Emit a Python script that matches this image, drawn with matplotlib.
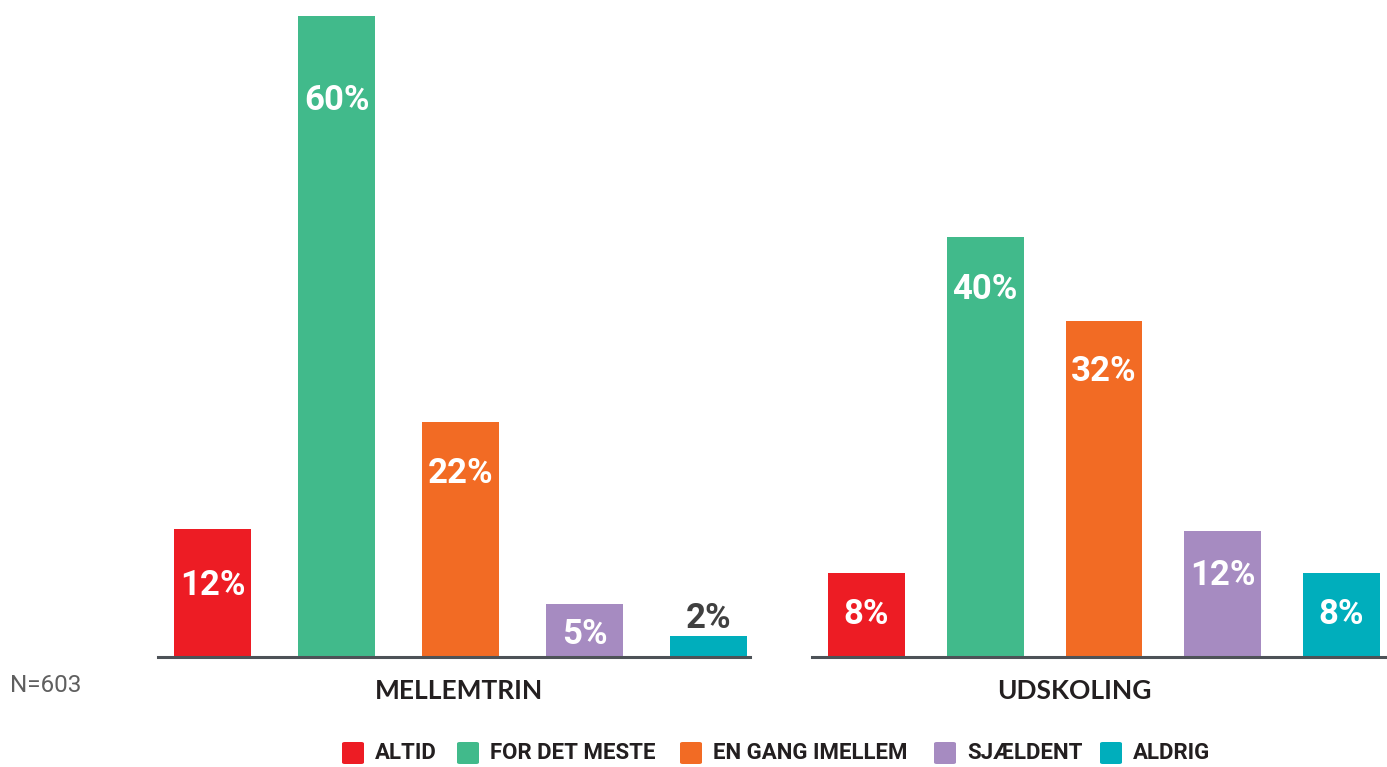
import matplotlib
matplotlib.use("Agg")
import matplotlib.pyplot as plt
from matplotlib.patches import FancyBboxPatch

categories = ["ALTID", "FOR DET MESTE", "EN GANG IMELLEM", "SJÆLDENT", "ALDRIG"]
groups = ["MELLEMTRIN", "UDSKOLING"]
mellemtrin = [12, 60, 22, 5, 2]
udskoling = [8, 40, 32, 12, 8]
colors = ["#ED1C24", "#41BA8B", "#F26B24", "#A68BC1", "#00AEBC"]
note = "N=603"

cond = "Roboto"

W, H = 1387, 767
fig = plt.figure(figsize=(W / 100, H / 100), dpi=100)

def px_axes(x0, x1, ytop, ybot):
    return fig.add_axes([x0 / W, 1 - ybot / H, (x1 - x0) / W, (ybot - ytop) / H])

# label offsets below bar top (pixels); negative = above
offs_l = [53, 81, 48, 27, -21]
offs_r = [38, 49, 47, 41, 38]

panels = [
    (mellemtrin, px_axes(158, 750, 16, 657), (-0.44, 4.335), 60.0, 0.62, offs_l, 0.508),
    (udskoling, px_axes(812, 1387, 16, 657), (-0.459, 4.383), 61.05, 0.648, offs_r, 0.456),
]

for (vals, ax, xl, ytop, bw, offs, cx), gname in zip(panels, groups):
    xs = range(len(vals))
    ax.bar(xs, vals, width=bw, color=colors, zorder=2)
    ax.set_xlim(*xl)
    ax.set_ylim(0, ytop)
    for s in ["top", "right", "left"]:
        ax.spines[s].set_visible(False)
    ax.spines["bottom"].set_color("#4D5257")
    ax.spines["bottom"].set_linewidth(2.2)
    ax.spines["bottom"].set_zorder(3)
    ax.set_xticks([])
    ax.set_yticks([])
    ax.patch.set_alpha(0)
    for x, v, o in zip(xs, vals, offs):
        col = "white" if o > 0 else "#404040"
        ax.annotate(f"{v}%", (x, v), xytext=(0, -o * 0.72), textcoords="offset points",
                    ha="center", va="center_baseline", color=col,
                    fontsize=25, fontweight="bold", family=[cond, "DejaVu Sans"])
    ax.text(cx, -34 / 641, gname, transform=ax.transAxes, ha="center", va="center",
            fontsize=19, fontweight="bold", family=["Lato", "DejaVu Sans"], color="#231F20",
            clip_on=False)

fig.text(10 / W, 1 - 686 / H, note, ha="left", va="center", fontsize=17.5,
         family=["Roboto", "DejaVu Sans"], color="#5F5F5F")

# legend
sq = [342, 457, 680, 934, 1100]
yc = 753
for x0, c, lab in zip(sq, colors, categories):
    p = FancyBboxPatch((x0 / W, (H - yc - 11) / H), 22 / W, 22 / H,
                       boxstyle="round,pad=0,rounding_size=0.002", transform=fig.transFigure,
                       facecolor=c, edgecolor="none")
    fig.patches.append(p)
    fig.text((x0 + 33) / W, 1 - yc / H, lab, ha="left", va="center", fontsize=16,
             fontweight="bold", family=[cond, "DejaVu Sans"], color="#231F20")

fig.savefig("out.png", dpi=100, facecolor="white")
